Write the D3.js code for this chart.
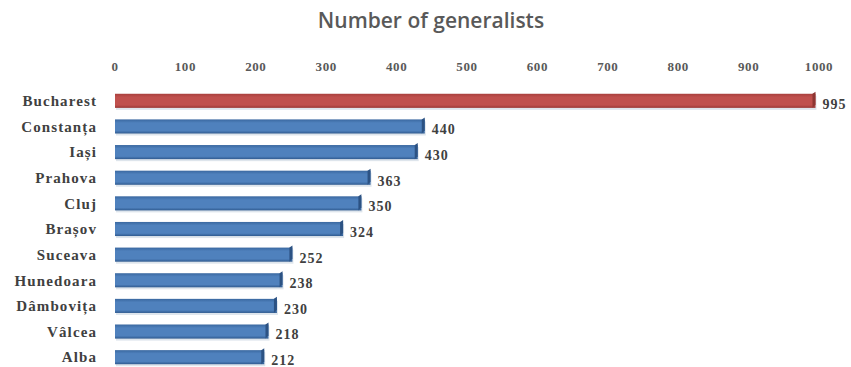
<!DOCTYPE html>
<html lang="en">
<head>
  <meta charset="UTF-8">
  <title>Number of generalists</title>
  <style>
    body { margin: 0; background: #fff; }
    .tick-label { font-family: "Liberation Serif", serif; font-weight: bold; font-size: 13px; letter-spacing: 0.6px; fill: #595959; text-anchor: middle; }
    .cat-label { font-family: "Liberation Serif", serif; font-weight: bold; font-size: 15px; letter-spacing: 1.1px; fill: #404040; text-anchor: end; }
    .value-label { font-family: "Liberation Serif", serif; font-weight: bold; font-size: 14px; letter-spacing: 1px; fill: #404040; }
    .title { font-family: "Open Sans", sans-serif; font-weight: 600; font-size: 21px; fill: #595959; text-anchor: middle; }
  </style>
</head>
<body>
  <svg width="851" height="367"></svg>

  <script src="https://d3js.org/d3.v7.min.js"></script>
  <script>
    var counties = ["Bucharest", "Constanța", "Iași", "Prahova", "Cluj", "Brașov", "Suceava", "Hunedoara", "Dâmbovița", "Vâlcea", "Alba"];
    var generalists = [995, 440, 430, 363, 350, 324, 252, 238, 230, 218, 212];
    var ticks = [0, 100, 200, 300, 400, 500, 600, 700, 800, 900, 1000];

    var svg = d3.select("svg");

    var x = d3.scaleLinear().domain([0, 1000]).range([115, 819]);
    var y = d3.scaleBand().domain(counties).range([88, 370]).paddingInner(0.45).paddingOuter(0.225);

    // gradients for the bevelled bars
    var defs = svg.append("defs");
    function grad(id, top, mid, bottom) {
      var g = defs.append("linearGradient").attr("id", id)
          .attr("x1", 0).attr("y1", 0).attr("x2", 0).attr("y2", 1);
      g.append("stop").attr("offset", "0%").attr("stop-color", top);
      g.append("stop").attr("offset", "25%").attr("stop-color", mid);
      g.append("stop").attr("offset", "80%").attr("stop-color", mid);
      g.append("stop").attr("offset", "100%").attr("stop-color", bottom);
    }
    grad("blueGrad", "#3a68a0", "#4f81bd", "#2f5a8f");
    grad("redGrad", "#a9403d", "#c0504d", "#9a3734");

    svg.append("text")
        .attr("class", "title")
        .attr("x", 431)
        .attr("y", 28)
        .text("Number of generalists");

    svg.append("g")
        .selectAll("text")
        .data(ticks)
        .enter().append("text")
        .attr("class", "tick-label")
        .attr("x", d => x(d))
        .attr("y", 71)
        .text(d => d);

    var data = counties.map((c, i) => ({ name: c, value: generalists[i] }));

    var rows = svg.append("g")
        .selectAll("g")
        .data(data)
        .enter().append("g");

    // soft shadow under each bar
    rows.append("rect")
        .attr("x", x(0) + 1)
        .attr("y", d => y(d.name) + 2)
        .attr("width", d => x(d.value) - x(0))
        .attr("height", y.bandwidth())
        .attr("fill", "#c8d3e0")
        .attr("opacity", 0.6);

    rows.append("rect")
        .attr("x", x(0))
        .attr("y", d => y(d.name))
        .attr("width", d => x(d.value) - x(0))
        .attr("height", y.bandwidth())
        .attr("fill", (d, i) => i === 0 ? "url(#redGrad)" : "url(#blueGrad)");

    // 3d end cap
    rows.append("path")
        .attr("d", function(d) {
          var xe = x(d.value), y0 = y(d.name), h = y.bandwidth();
          return "M" + (xe - 3) + "," + y0 + "L" + xe + "," + (y0 - 2) + "L" + xe + "," + (y0 + h - 3) + "L" + (xe - 3) + "," + (y0 + h) + "Z";
        })
        .attr("fill", (d, i) => i === 0 ? "#8e3633" : "#2c5283");

    rows.append("text")
        .attr("class", "cat-label")
        .attr("x", 97)
        .attr("y", d => y(d.name) + y.bandwidth() / 2)
        .attr("dy", "0.35em")
        .text(d => d.name);

    rows.append("text")
        .attr("class", "value-label")
        .attr("x", d => x(d.value) + 7)
        .attr("y", d => y(d.name) + y.bandwidth() / 2 + 3)
        .attr("dy", "0.35em")
        .text(d => d.value);
  </script>
</body>
</html>
